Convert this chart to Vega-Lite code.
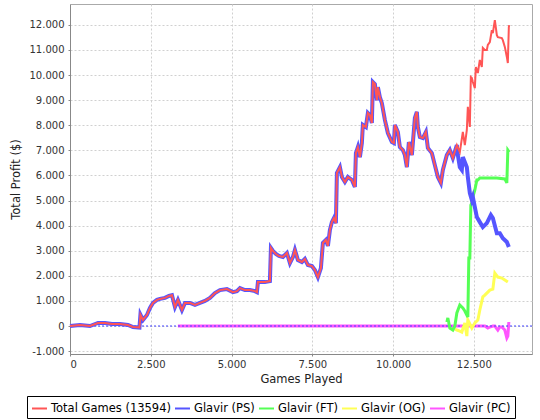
{
  "$schema": "https://vega.github.io/schema/vega-lite/v6.json",
  "width": 462,
  "height": 350,
  "autosize": {"type": "none"},
  "padding": {"left": 70, "top": 4, "right": 8, "bottom": 66},
  "background": "white",
  "config": {
    "font": "DejaVu Sans",
    "view": {"stroke": "#aaaaaa", "strokeWidth": 1},
    "axis": {
      "domainColor": "#888888", "tickColor": "#888888", "tickSize": 2,
      "labelFont": "DejaVu Sans", "labelFontSize": 10, "labelColor": "#333333",
      "titleFont": "DejaVu Sans", "titleFontSize": 11.5, "titleFontWeight": "normal", "titleColor": "#222222",
      "gridColor": "#d0d0d0", "gridDash": [2, 2], "gridWidth": 1
    },
    "legend": {
      "orient": "none", "legendX": -43, "legendY": 392, "direction": "horizontal",
      "strokeColor": "#000000", "fillColor": "#ffffff", "padding": 4, "cornerRadius": 0,
      "symbolType": "stroke", "symbolSize": 225, "symbolStrokeWidth": 2,
      "labelFont": "DejaVu Sans", "labelFontSize": 11.5, "labelColor": "#000000",
      "labelOffset": 3, "columnPadding": 0, "title": null
    }
  },
  "datasets": {
    "total": [
      {"series":"Total Games (13594)","games":0,"profit":0},{"series":"Total Games (13594)","games":309,"profit":40},{"series":"Total Games (13594)","games":619,"profit":0},{"series":"Total Games (13594)","games":866,"profit":120},{"series":"Total Games (13594)","games":1083,"profit":120},{"series":"Total Games (13594)","games":1300,"profit":80},{"series":"Total Games (13594)","games":1547,"profit":80},{"series":"Total Games (13594)","games":1795,"profit":40},{"series":"Total Games (13594)","games":1949,"profit":-40},{"series":"Total Games (13594)","games":2150,"profit":-60},{"series":"Total Games (13594)","games":2180,"profit":450},{"series":"Total Games (13594)","games":2259,"profit":240},{"series":"Total Games (13594)","games":2382,"profit":440},{"series":"Total Games (13594)","games":2475,"profit":720},{"series":"Total Games (13594)","games":2568,"profit":920},{"series":"Total Games (13594)","games":2692,"profit":1040},{"series":"Total Games (13594)","games":2785,"profit":1080},{"series":"Total Games (13594)","games":2940,"profit":1120},{"series":"Total Games (13594)","games":3063,"profit":1200},{"series":"Total Games (13594)","games":3156,"profit":1230},{"series":"Total Games (13594)","games":3249,"profit":760},{"series":"Total Games (13594)","games":3341,"profit":1040},{"series":"Total Games (13594)","games":3465,"profit":640},{"series":"Total Games (13594)","games":3558,"profit":920},{"series":"Total Games (13594)","games":3713,"profit":920},{"series":"Total Games (13594)","games":3868,"profit":840},{"series":"Total Games (13594)","games":4022,"profit":920},{"series":"Total Games (13594)","games":4177,"profit":1000},{"series":"Total Games (13594)","games":4332,"profit":1120},{"series":"Total Games (13594)","games":4486,"profit":1310},{"series":"Total Games (13594)","games":4641,"profit":1430},{"series":"Total Games (13594)","games":4858,"profit":1470},{"series":"Total Games (13594)","games":5043,"profit":1350},{"series":"Total Games (13594)","games":5167,"profit":1390},{"series":"Total Games (13594)","games":5260,"profit":1510},{"series":"Total Games (13594)","games":5414,"profit":1430},{"series":"Total Games (13594)","games":5569,"profit":1430},{"series":"Total Games (13594)","games":5724,"profit":1390},{"series":"Total Games (13594)","games":5786,"profit":1350},{"series":"Total Games (13594)","games":5817,"profit":1750},{"series":"Total Games (13594)","games":6033,"profit":1750},{"series":"Total Games (13594)","games":6188,"profit":1790},{"series":"Total Games (13594)","games":6219,"profit":3110},{"series":"Total Games (13594)","games":6281,"profit":2990},{"series":"Total Games (13594)","games":6374,"profit":2870},{"series":"Total Games (13594)","games":6467,"profit":2790},{"series":"Total Games (13594)","games":6590,"profit":2750},{"series":"Total Games (13594)","games":6714,"profit":2910},{"series":"Total Games (13594)","games":6807,"profit":2510},{"series":"Total Games (13594)","games":6900,"profit":2750},{"series":"Total Games (13594)","games":6962,"profit":3030},{"series":"Total Games (13594)","games":7054,"profit":2630},{"series":"Total Games (13594)","games":7178,"profit":2550},{"series":"Total Games (13594)","games":7271,"profit":2670},{"series":"Total Games (13594)","games":7364,"profit":2430},{"series":"Total Games (13594)","games":7488,"profit":2390},{"series":"Total Games (13594)","games":7580,"profit":2230},{"series":"Total Games (13594)","games":7673,"profit":1950},{"series":"Total Games (13594)","games":7766,"profit":2310},{"series":"Total Games (13594)","games":7828,"profit":3310},{"series":"Total Games (13594)","games":7921,"profit":3430},{"series":"Total Games (13594)","games":7983,"profit":3190},{"series":"Total Games (13594)","games":8044,"profit":3820},{"series":"Total Games (13594)","games":8106,"profit":4140},{"series":"Total Games (13594)","games":8168,"profit":4300},{"series":"Total Games (13594)","games":8230,"profit":4100},{"series":"Total Games (13594)","games":8261,"profit":6100},{"series":"Total Games (13594)","games":8354,"profit":6330},{"series":"Total Games (13594)","games":8416,"profit":5940},{"series":"Total Games (13594)","games":8509,"profit":5740},{"series":"Total Games (13594)","games":8601,"profit":5940},{"series":"Total Games (13594)","games":8725,"profit":5820},{"series":"Total Games (13594)","games":8818,"profit":5540},{"series":"Total Games (13594)","games":8849,"profit":6890},{"series":"Total Games (13594)","games":8911,"profit":7130},{"series":"Total Games (13594)","games":8973,"profit":6730},{"series":"Total Games (13594)","games":9034,"profit":7290},{"series":"Total Games (13594)","games":9065,"profit":8010},{"series":"Total Games (13594)","games":9158,"profit":7930},{"series":"Total Games (13594)","games":9220,"profit":8490},{"series":"Total Games (13594)","games":9282,"profit":8410},{"series":"Total Games (13594)","games":9344,"profit":8090},{"series":"Total Games (13594)","games":9375,"profit":9720},{"series":"Total Games (13594)","games":9437,"profit":9640},{"series":"Total Games (13594)","games":9499,"profit":9000},{"series":"Total Games (13594)","games":9530,"profit":9520},{"series":"Total Games (13594)","games":9591,"profit":9120},{"series":"Total Games (13594)","games":9653,"profit":8880},{"series":"Total Games (13594)","games":9746,"profit":8210},{"series":"Total Games (13594)","games":9839,"profit":7690},{"series":"Total Games (13594)","games":9963,"profit":7330},{"series":"Total Games (13594)","games":10025,"profit":7290},{"series":"Total Games (13594)","games":10056,"profit":8010},{"series":"Total Games (13594)","games":10148,"profit":7730},{"series":"Total Games (13594)","games":10210,"profit":7130},{"series":"Total Games (13594)","games":10303,"profit":7010},{"series":"Total Games (13594)","games":10365,"profit":6810},{"series":"Total Games (13594)","games":10427,"profit":6330},{"series":"Total Games (13594)","games":10489,"profit":7330},{"series":"Total Games (13594)","games":10582,"profit":6810},{"series":"Total Games (13594)","games":10675,"profit":8290},{"series":"Total Games (13594)","games":10736,"profit":8530},{"series":"Total Games (13594)","games":10767,"profit":7930},{"series":"Total Games (13594)","games":10829,"profit":7530},{"series":"Total Games (13594)","games":10922,"profit":7490},{"series":"Total Games (13594)","games":11015,"profit":7730},{"series":"Total Games (13594)","games":11077,"profit":7090},{"series":"Total Games (13594)","games":11200,"profit":6890},{"series":"Total Games (13594)","games":11293,"profit":6410},{"series":"Total Games (13594)","games":11386,"profit":5940},{"series":"Total Games (13594)","games":11479,"profit":5700},{"series":"Total Games (13594)","games":11541,"profit":6220},{"series":"Total Games (13594)","games":11664,"profit":6810},{"series":"Total Games (13594)","games":11757,"profit":7010},{"series":"Total Games (13594)","games":11850,"profit":6690},{"series":"Total Games (13594)","games":11974,"profit":7210},{"series":"Total Games (13594)","games":12066,"profit":6930},{"series":"Total Games (13594)","games":12159,"profit":7730},{"series":"Total Games (13594)","games":12221,"profit":7210},{"series":"Total Games (13594)","games":12283,"profit":7810},{"series":"Total Games (13594)","games":12314,"profit":8730},{"series":"Total Games (13594)","games":12376,"profit":7930},{"series":"Total Games (13594)","games":12407,"profit":9920},{"series":"Total Games (13594)","games":12438,"profit":9880},{"series":"Total Games (13594)","games":12469,"profit":9720},{"series":"Total Games (13594)","games":12531,"profit":9480},{"series":"Total Games (13594)","games":12562,"profit":10320},{"series":"Total Games (13594)","games":12624,"profit":10080},{"series":"Total Games (13594)","games":12685,"profit":10600},{"series":"Total Games (13594)","games":12747,"profit":10320},{"series":"Total Games (13594)","games":12778,"profit":11080},{"series":"Total Games (13594)","games":12840,"profit":11000},{"series":"Total Games (13594)","games":12902,"profit":11000},{"series":"Total Games (13594)","games":12933,"profit":11200},{"series":"Total Games (13594)","games":12995,"profit":11310},{"series":"Total Games (13594)","games":13057,"profit":11790},{"series":"Total Games (13594)","games":13088,"profit":11670},{"series":"Total Games (13594)","games":13150,"profit":12190},{"series":"Total Games (13594)","games":13212,"profit":11590},{"series":"Total Games (13594)","games":13243,"profit":11510},{"series":"Total Games (13594)","games":13366,"profit":11470},{"series":"Total Games (13594)","games":13397,"profit":11390},{"series":"Total Games (13594)","games":13459,"profit":11120},{"series":"Total Games (13594)","games":13521,"profit":10720},{"series":"Total Games (13594)","games":13552,"profit":10480},{"series":"Total Games (13594)","games":13583,"profit":11910},{"series":"Total Games (13594)","games":13594,"profit":11990}
    ],
    "ps": [
      {"series":"Glavir (PS)","games":0,"profit":0},{"series":"Glavir (PS)","games":309,"profit":40},{"series":"Glavir (PS)","games":619,"profit":0},{"series":"Glavir (PS)","games":866,"profit":120},{"series":"Glavir (PS)","games":1083,"profit":120},{"series":"Glavir (PS)","games":1300,"profit":80},{"series":"Glavir (PS)","games":1547,"profit":80},{"series":"Glavir (PS)","games":1795,"profit":40},{"series":"Glavir (PS)","games":1949,"profit":-40},{"series":"Glavir (PS)","games":2150,"profit":-60},{"series":"Glavir (PS)","games":2180,"profit":450},{"series":"Glavir (PS)","games":2259,"profit":240},{"series":"Glavir (PS)","games":2382,"profit":440},{"series":"Glavir (PS)","games":2475,"profit":720},{"series":"Glavir (PS)","games":2568,"profit":920},{"series":"Glavir (PS)","games":2692,"profit":1040},{"series":"Glavir (PS)","games":2785,"profit":1080},{"series":"Glavir (PS)","games":2940,"profit":1120},{"series":"Glavir (PS)","games":3063,"profit":1200},{"series":"Glavir (PS)","games":3156,"profit":1230},{"series":"Glavir (PS)","games":3249,"profit":760},{"series":"Glavir (PS)","games":3341,"profit":1040},{"series":"Glavir (PS)","games":3465,"profit":640},{"series":"Glavir (PS)","games":3558,"profit":920},{"series":"Glavir (PS)","games":3713,"profit":920},{"series":"Glavir (PS)","games":3868,"profit":840},{"series":"Glavir (PS)","games":4022,"profit":920},{"series":"Glavir (PS)","games":4177,"profit":1000},{"series":"Glavir (PS)","games":4332,"profit":1120},{"series":"Glavir (PS)","games":4486,"profit":1310},{"series":"Glavir (PS)","games":4641,"profit":1430},{"series":"Glavir (PS)","games":4858,"profit":1470},{"series":"Glavir (PS)","games":5043,"profit":1350},{"series":"Glavir (PS)","games":5167,"profit":1390},{"series":"Glavir (PS)","games":5260,"profit":1510},{"series":"Glavir (PS)","games":5414,"profit":1430},{"series":"Glavir (PS)","games":5569,"profit":1430},{"series":"Glavir (PS)","games":5724,"profit":1390},{"series":"Glavir (PS)","games":5786,"profit":1350},{"series":"Glavir (PS)","games":5817,"profit":1750},{"series":"Glavir (PS)","games":6033,"profit":1750},{"series":"Glavir (PS)","games":6188,"profit":1790},{"series":"Glavir (PS)","games":6219,"profit":3110},{"series":"Glavir (PS)","games":6281,"profit":2990},{"series":"Glavir (PS)","games":6374,"profit":2870},{"series":"Glavir (PS)","games":6467,"profit":2790},{"series":"Glavir (PS)","games":6590,"profit":2750},{"series":"Glavir (PS)","games":6714,"profit":2910},{"series":"Glavir (PS)","games":6807,"profit":2510},{"series":"Glavir (PS)","games":6900,"profit":2750},{"series":"Glavir (PS)","games":6962,"profit":3030},{"series":"Glavir (PS)","games":7054,"profit":2630},{"series":"Glavir (PS)","games":7178,"profit":2550},{"series":"Glavir (PS)","games":7271,"profit":2670},{"series":"Glavir (PS)","games":7364,"profit":2430},{"series":"Glavir (PS)","games":7488,"profit":2390},{"series":"Glavir (PS)","games":7580,"profit":2230},{"series":"Glavir (PS)","games":7673,"profit":1950},{"series":"Glavir (PS)","games":7766,"profit":2310},{"series":"Glavir (PS)","games":7828,"profit":3310},{"series":"Glavir (PS)","games":7921,"profit":3430},{"series":"Glavir (PS)","games":7983,"profit":3190},{"series":"Glavir (PS)","games":8044,"profit":3820},{"series":"Glavir (PS)","games":8106,"profit":4140},{"series":"Glavir (PS)","games":8168,"profit":4300},{"series":"Glavir (PS)","games":8230,"profit":4100},{"series":"Glavir (PS)","games":8261,"profit":6100},{"series":"Glavir (PS)","games":8354,"profit":6330},{"series":"Glavir (PS)","games":8416,"profit":5940},{"series":"Glavir (PS)","games":8509,"profit":5740},{"series":"Glavir (PS)","games":8601,"profit":5940},{"series":"Glavir (PS)","games":8725,"profit":5820},{"series":"Glavir (PS)","games":8818,"profit":5540},{"series":"Glavir (PS)","games":8849,"profit":6890},{"series":"Glavir (PS)","games":8911,"profit":7130},{"series":"Glavir (PS)","games":8973,"profit":6730},{"series":"Glavir (PS)","games":9034,"profit":7290},{"series":"Glavir (PS)","games":9065,"profit":8010},{"series":"Glavir (PS)","games":9158,"profit":7930},{"series":"Glavir (PS)","games":9220,"profit":8490},{"series":"Glavir (PS)","games":9282,"profit":8410},{"series":"Glavir (PS)","games":9344,"profit":8090},{"series":"Glavir (PS)","games":9375,"profit":9720},{"series":"Glavir (PS)","games":9437,"profit":9640},{"series":"Glavir (PS)","games":9499,"profit":9000},{"series":"Glavir (PS)","games":9530,"profit":9520},{"series":"Glavir (PS)","games":9591,"profit":9120},{"series":"Glavir (PS)","games":9653,"profit":8880},{"series":"Glavir (PS)","games":9746,"profit":8210},{"series":"Glavir (PS)","games":9839,"profit":7690},{"series":"Glavir (PS)","games":9963,"profit":7330},{"series":"Glavir (PS)","games":10025,"profit":7290},{"series":"Glavir (PS)","games":10056,"profit":8010},{"series":"Glavir (PS)","games":10148,"profit":7730},{"series":"Glavir (PS)","games":10210,"profit":7130},{"series":"Glavir (PS)","games":10303,"profit":7010},{"series":"Glavir (PS)","games":10365,"profit":6810},{"series":"Glavir (PS)","games":10427,"profit":6330},{"series":"Glavir (PS)","games":10489,"profit":7330},{"series":"Glavir (PS)","games":10582,"profit":6810},{"series":"Glavir (PS)","games":10675,"profit":8290},{"series":"Glavir (PS)","games":10736,"profit":8530},{"series":"Glavir (PS)","games":10767,"profit":7930},{"series":"Glavir (PS)","games":10829,"profit":7530},{"series":"Glavir (PS)","games":10922,"profit":7490},{"series":"Glavir (PS)","games":11015,"profit":7730},{"series":"Glavir (PS)","games":11077,"profit":7090},{"series":"Glavir (PS)","games":11200,"profit":6890},{"series":"Glavir (PS)","games":11293,"profit":6410},{"series":"Glavir (PS)","games":11386,"profit":5940},{"series":"Glavir (PS)","games":11479,"profit":5700},{"series":"Glavir (PS)","games":11541,"profit":6220},{"series":"Glavir (PS)","games":11664,"profit":6810},{"series":"Glavir (PS)","games":11757,"profit":7010},{"series":"Glavir (PS)","games":11850,"profit":6690},{"series":"Glavir (PS)","games":11974,"profit":7210},{"series":"Glavir (PS)","games":12005,"profit":6810},{"series":"Glavir (PS)","games":12066,"profit":6330},{"series":"Glavir (PS)","games":12128,"profit":6220},{"series":"Glavir (PS)","games":12159,"profit":6730},{"series":"Glavir (PS)","games":12283,"profit":6330},{"series":"Glavir (PS)","games":12314,"profit":5940},{"series":"Glavir (PS)","games":12376,"profit":5300},{"series":"Glavir (PS)","games":12438,"profit":5020},{"series":"Glavir (PS)","games":12469,"profit":5140},{"series":"Glavir (PS)","games":12531,"profit":4740},{"series":"Glavir (PS)","games":12593,"profit":4340},{"series":"Glavir (PS)","games":12685,"profit":4140},{"series":"Glavir (PS)","games":12778,"profit":3940},{"series":"Glavir (PS)","games":12902,"profit":4100},{"series":"Glavir (PS)","games":13026,"profit":4420},{"series":"Glavir (PS)","games":13088,"profit":4300},{"series":"Glavir (PS)","games":13212,"profit":3700},{"series":"Glavir (PS)","games":13304,"profit":3700},{"series":"Glavir (PS)","games":13397,"profit":3500},{"series":"Glavir (PS)","games":13521,"profit":3350},{"series":"Glavir (PS)","games":13583,"profit":3150}
    ],
    "ft": [
      {"series":"Glavir (FT)","games":11664,"profit":160},{"series":"Glavir (FT)","games":11695,"profit":320},{"series":"Glavir (FT)","games":11757,"profit":-80},{"series":"Glavir (FT)","games":11850,"profit":-160},{"series":"Glavir (FT)","games":11912,"profit":0},{"series":"Glavir (FT)","games":11974,"profit":520},{"series":"Glavir (FT)","games":12066,"profit":840},{"series":"Glavir (FT)","games":12128,"profit":760},{"series":"Glavir (FT)","games":12159,"profit":720},{"series":"Glavir (FT)","games":12221,"profit":600},{"series":"Glavir (FT)","games":12283,"profit":440},{"series":"Glavir (FT)","games":12314,"profit":360},{"series":"Glavir (FT)","games":12345,"profit":2710},{"series":"Glavir (FT)","games":12376,"profit":2710},{"series":"Glavir (FT)","games":12407,"profit":4820},{"series":"Glavir (FT)","games":12438,"profit":4900},{"series":"Glavir (FT)","games":12469,"profit":5140},{"series":"Glavir (FT)","games":12531,"profit":5420},{"series":"Glavir (FT)","games":12593,"profit":5820},{"series":"Glavir (FT)","games":12624,"profit":5820},{"series":"Glavir (FT)","games":12685,"profit":5900},{"series":"Glavir (FT)","games":12902,"profit":5900},{"series":"Glavir (FT)","games":13212,"profit":5900},{"series":"Glavir (FT)","games":13459,"profit":5860},{"series":"Glavir (FT)","games":13521,"profit":5700},{"series":"Glavir (FT)","games":13552,"profit":7010},{"series":"Glavir (FT)","games":13594,"profit":6930}
    ],
    "og": [
      {"series":"Glavir (OG)","games":11912,"profit":-120},{"series":"Glavir (OG)","games":11974,"profit":-160},{"series":"Glavir (OG)","games":12066,"profit":-200},{"series":"Glavir (OG)","games":12128,"profit":-240},{"series":"Glavir (OG)","games":12221,"profit":120},{"series":"Glavir (OG)","games":12283,"profit":-400},{"series":"Glavir (OG)","games":12314,"profit":240},{"series":"Glavir (OG)","games":12376,"profit":80},{"series":"Glavir (OG)","games":12438,"profit":-80},{"series":"Glavir (OG)","games":12531,"profit":120},{"series":"Glavir (OG)","games":12624,"profit":240},{"series":"Glavir (OG)","games":12685,"profit":640},{"series":"Glavir (OG)","games":12778,"profit":1160},{"series":"Glavir (OG)","games":12840,"profit":1230},{"series":"Glavir (OG)","games":12902,"profit":1310},{"series":"Glavir (OG)","games":12995,"profit":1430},{"series":"Glavir (OG)","games":13088,"profit":1470},{"series":"Glavir (OG)","games":13150,"profit":2110},{"series":"Glavir (OG)","games":13243,"profit":1950},{"series":"Glavir (OG)","games":13366,"profit":1910},{"series":"Glavir (OG)","games":13459,"profit":1830},{"series":"Glavir (OG)","games":13552,"profit":1750}
    ],
    "pc": [
      {"series":"Glavir (PC)","games":3340,"profit":0},{"series":"Glavir (PC)","games":12840,"profit":0},{"series":"Glavir (PC)","games":12933,"profit":-80},{"series":"Glavir (PC)","games":12995,"profit":-40},{"series":"Glavir (PC)","games":13088,"profit":0},{"series":"Glavir (PC)","games":13150,"profit":0},{"series":"Glavir (PC)","games":13243,"profit":-160},{"series":"Glavir (PC)","games":13304,"profit":-40},{"series":"Glavir (PC)","games":13366,"profit":-40},{"series":"Glavir (PC)","games":13459,"profit":-160},{"series":"Glavir (PC)","games":13521,"profit":-480},{"series":"Glavir (PC)","games":13552,"profit":-400},{"series":"Glavir (PC)","games":13583,"profit":160}
    ]
  },
  "layer": [
    {
      "data": {"name": "pc"},
      "mark": {"type": "line", "strokeWidth": 3},
      "encoding": {
        "x": {"field": "games", "type": "quantitative", "title": "Games Played", "scale": {"domain": [0, 14300], "nice": false, "zero": false},
              "axis": {"values": [0, 2500, 5000, 7500, 10000, 12500], "grid": true, "labelPadding": 3, "titlePadding": 4, "labelExpr": "replace(format(datum.value, ','), ',', '.')"}},
        "y": {"field": "profit", "type": "quantitative", "title": "Total Profit ($)", "scale": {"domain": [-1115, 12830], "nice": false, "zero": false},
              "axis": {"values": [-1000, 0, 1000, 2000, 3000, 4000, 5000, 6000, 7000, 8000, 9000, 10000, 11000, 12000], "grid": true, "labelPadding": 4, "titlePadding": 8, "labelExpr": "(datum.value < 0 ? '-' : '') + replace(format(abs(datum.value), ','), ',', '.')"}},
        "color": {"field": "series", "type": "nominal", "title": null, "scale": {"domain": ["Total Games (13594)", "Glavir (PS)", "Glavir (FT)", "Glavir (OG)", "Glavir (PC)"], "range": ["#ff5555", "#5555ff", "#55ff55", "#ffff55", "#ff55ff"]}}
      }
    },
    {
      "data": {"values": [{"profit": 0}]},
      "mark": {"type": "rule", "color": "#4444ff", "strokeDash": [2, 2], "strokeWidth": 1},
      "encoding": {
        "y": {"field": "profit", "type": "quantitative", "title": "Total Profit ($)", "scale": {"domain": [-1115, 12830], "nice": false, "zero": false},
              "axis": {"values": [-1000, 0, 1000, 2000, 3000, 4000, 5000, 6000, 7000, 8000, 9000, 10000, 11000, 12000], "grid": true, "labelPadding": 4, "titlePadding": 8, "labelExpr": "(datum.value < 0 ? '-' : '') + replace(format(abs(datum.value), ','), ',', '.')"}}
      }
    },
    {
      "data": {"name": "og"},
      "mark": {"type": "line", "strokeWidth": 3},
      "encoding": {
        "x": {"field": "games", "type": "quantitative", "title": "Games Played", "scale": {"domain": [0, 14300], "nice": false, "zero": false},
              "axis": {"values": [0, 2500, 5000, 7500, 10000, 12500], "grid": true, "labelPadding": 3, "titlePadding": 4, "labelExpr": "replace(format(datum.value, ','), ',', '.')"}},
        "y": {"field": "profit", "type": "quantitative", "title": "Total Profit ($)", "scale": {"domain": [-1115, 12830], "nice": false, "zero": false},
              "axis": {"values": [-1000, 0, 1000, 2000, 3000, 4000, 5000, 6000, 7000, 8000, 9000, 10000, 11000, 12000], "grid": true, "labelPadding": 4, "titlePadding": 8, "labelExpr": "(datum.value < 0 ? '-' : '') + replace(format(abs(datum.value), ','), ',', '.')"}},
        "color": {"field": "series", "type": "nominal", "title": null, "scale": {"domain": ["Total Games (13594)", "Glavir (PS)", "Glavir (FT)", "Glavir (OG)", "Glavir (PC)"], "range": ["#ff5555", "#5555ff", "#55ff55", "#ffff55", "#ff55ff"]}}
      }
    },
    {
      "data": {"name": "ft"},
      "mark": {"type": "line", "strokeWidth": 3},
      "encoding": {
        "x": {"field": "games", "type": "quantitative", "title": "Games Played", "scale": {"domain": [0, 14300], "nice": false, "zero": false},
              "axis": {"values": [0, 2500, 5000, 7500, 10000, 12500], "grid": true, "labelPadding": 3, "titlePadding": 4, "labelExpr": "replace(format(datum.value, ','), ',', '.')"}},
        "y": {"field": "profit", "type": "quantitative", "title": "Total Profit ($)", "scale": {"domain": [-1115, 12830], "nice": false, "zero": false},
              "axis": {"values": [-1000, 0, 1000, 2000, 3000, 4000, 5000, 6000, 7000, 8000, 9000, 10000, 11000, 12000], "grid": true, "labelPadding": 4, "titlePadding": 8, "labelExpr": "(datum.value < 0 ? '-' : '') + replace(format(abs(datum.value), ','), ',', '.')"}},
        "color": {"field": "series", "type": "nominal", "title": null, "scale": {"domain": ["Total Games (13594)", "Glavir (PS)", "Glavir (FT)", "Glavir (OG)", "Glavir (PC)"], "range": ["#ff5555", "#5555ff", "#55ff55", "#ffff55", "#ff55ff"]}}
      }
    },
    {
      "data": {"name": "ps"},
      "mark": {"type": "line", "strokeWidth": 4},
      "encoding": {
        "x": {"field": "games", "type": "quantitative", "title": "Games Played", "scale": {"domain": [0, 14300], "nice": false, "zero": false},
              "axis": {"values": [0, 2500, 5000, 7500, 10000, 12500], "grid": true, "labelPadding": 3, "titlePadding": 4, "labelExpr": "replace(format(datum.value, ','), ',', '.')"}},
        "y": {"field": "profit", "type": "quantitative", "title": "Total Profit ($)", "scale": {"domain": [-1115, 12830], "nice": false, "zero": false},
              "axis": {"values": [-1000, 0, 1000, 2000, 3000, 4000, 5000, 6000, 7000, 8000, 9000, 10000, 11000, 12000], "grid": true, "labelPadding": 4, "titlePadding": 8, "labelExpr": "(datum.value < 0 ? '-' : '') + replace(format(abs(datum.value), ','), ',', '.')"}},
        "color": {"field": "series", "type": "nominal", "title": null, "scale": {"domain": ["Total Games (13594)", "Glavir (PS)", "Glavir (FT)", "Glavir (OG)", "Glavir (PC)"], "range": ["#ff5555", "#5555ff", "#55ff55", "#ffff55", "#ff55ff"]}}
      }
    },
    {
      "data": {"name": "total"},
      "mark": {"type": "line", "strokeWidth": 2},
      "encoding": {
        "x": {"field": "games", "type": "quantitative", "title": "Games Played", "scale": {"domain": [0, 14300], "nice": false, "zero": false},
              "axis": {"values": [0, 2500, 5000, 7500, 10000, 12500], "grid": true, "labelPadding": 3, "titlePadding": 4, "labelExpr": "replace(format(datum.value, ','), ',', '.')"}},
        "y": {"field": "profit", "type": "quantitative", "title": "Total Profit ($)", "scale": {"domain": [-1115, 12830], "nice": false, "zero": false},
              "axis": {"values": [-1000, 0, 1000, 2000, 3000, 4000, 5000, 6000, 7000, 8000, 9000, 10000, 11000, 12000], "grid": true, "labelPadding": 4, "titlePadding": 8, "labelExpr": "(datum.value < 0 ? '-' : '') + replace(format(abs(datum.value), ','), ',', '.')"}},
        "color": {"field": "series", "type": "nominal", "title": null, "scale": {"domain": ["Total Games (13594)", "Glavir (PS)", "Glavir (FT)", "Glavir (OG)", "Glavir (PC)"], "range": ["#ff5555", "#5555ff", "#55ff55", "#ffff55", "#ff55ff"]}}
      }
    }
  ]
}
